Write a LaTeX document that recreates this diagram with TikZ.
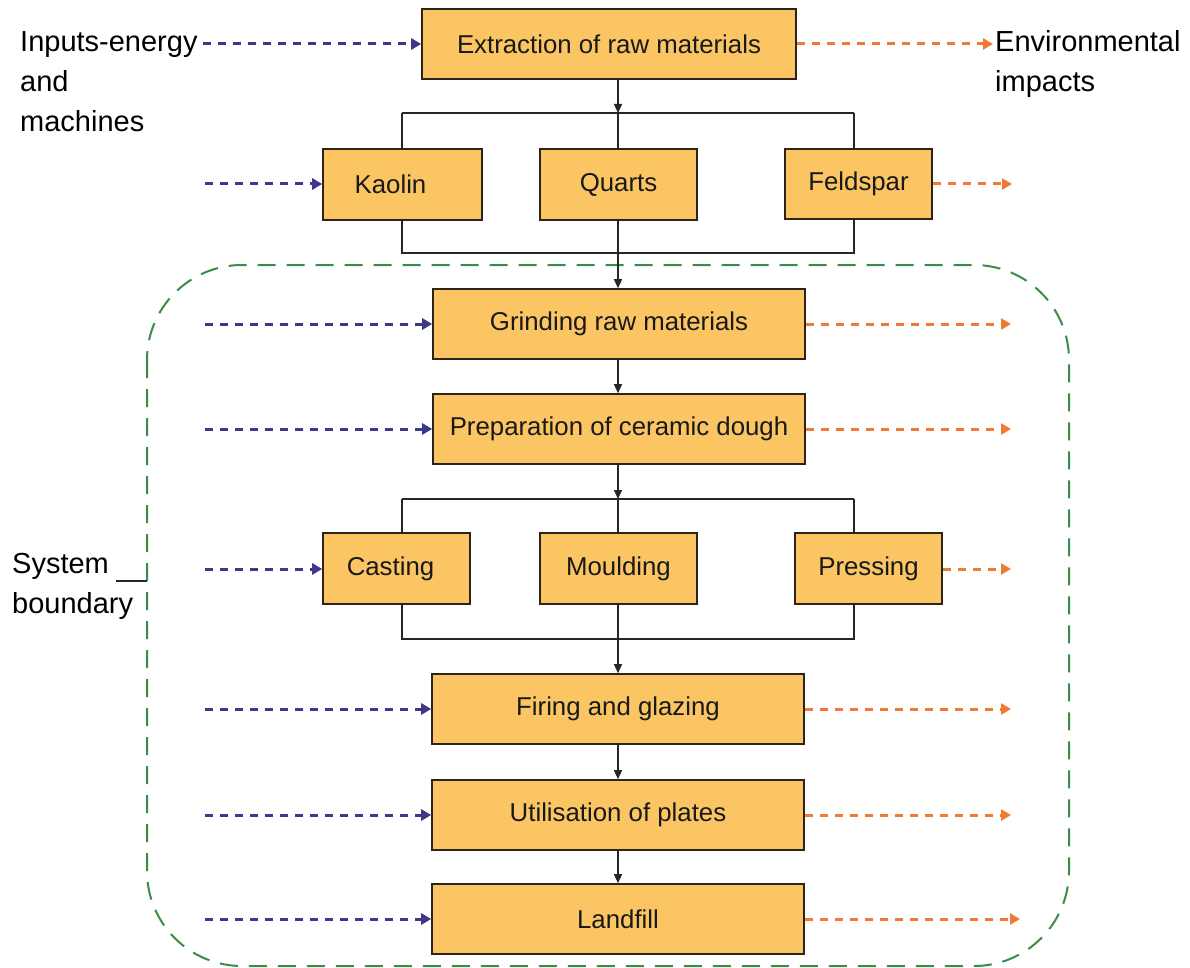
\documentclass[tikz,border=0pt]{standalone}
\usepackage{fontspec}
\setmainfont{Liberation Sans}
\usetikzlibrary{arrows.meta}
\definecolor{boxfill}{RGB}{250,197,98}
\definecolor{boxline}{RGB}{45,35,25}
\definecolor{inblue}{RGB}{62,56,140}
\definecolor{outorange}{RGB}{238,122,52}
\definecolor{bndgreen}{RGB}{58,140,70}
\tikzset{
  stage/.style={draw=boxline, line width=1.6pt, fill=boxfill, inner sep=0pt,
    font=\fontsize{25.8}{30}\selectfont, text=black!90},
  conn/.style={draw=black!85, line width=1.4pt},
  flowtip/.style={-{Triangle[length=9pt,width=8pt]}},
  inarrow/.style={draw=inblue, line width=3pt, dash pattern=on 8pt off 7pt,
    -{Triangle[length=10pt,width=11pt]}},
  outarrow/.style={draw=outorange, line width=3pt, dash pattern=on 8pt off 7pt,
    -{Triangle[length=10pt,width=11pt]}},
  boundary/.style={draw=bndgreen, line width=2pt, dash pattern=on 18pt off 11pt, rounded corners=95pt},
  sidelabel/.style={font=\fontsize{29}{40}\selectfont, align=left, inner sep=0pt, anchor=north west}
}
\begin{document}
\begin{tikzpicture}[x=1pt,y=-1pt]
\useasboundingbox (0,0) rectangle (1190,968);
\fill[white] (0,0) rectangle (1190,968);

% system boundary
\draw[boundary] (147,265) rectangle (1069,966);

% stages
\node[stage, minimum width=374pt, minimum height=70pt] (ext) at (609,44) {Extraction of raw materials};
\node[stage, minimum width=159pt, minimum height=71pt] (kao) at (402.5,184.5) {Kaolin\kern24pt};
\node[stage, minimum width=157pt, minimum height=71pt] (qua) at (618.5,184.5) {Quarts};
\node[stage, minimum width=147pt, minimum height=70pt] (fel) at (858.5,184) {Feldspar};
\node[stage, minimum width=372pt, minimum height=70pt] (gri) at (619,324) {Grinding raw materials};
\node[stage, minimum width=372pt, minimum height=70pt] (pre) at (619,429) {Preparation of ceramic dough};
\node[stage, minimum width=147pt, minimum height=71pt] (cas) at (396.5,568.5) {Casting\kern12pt};
\node[stage, minimum width=157pt, minimum height=71pt] (mou) at (618.5,568.5) {Moulding};
\node[stage, minimum width=147pt, minimum height=71pt] (pres) at (868.5,568.5) {Pressing};
\node[stage, minimum width=372pt, minimum height=70pt] (fir) at (618,709) {Firing and glazing};
\node[stage, minimum width=372pt, minimum height=70pt] (uti) at (618,815) {Utilisation of plates};
\node[stage, minimum width=372pt, minimum height=70pt] (lan) at (618,919) {Landfill};

% side labels
\node[sidelabel] (inputs) at (20,31) {Inputs-energy\\and\\machines};
\node[sidelabel] (envimp) at (995,30) {Environmental\\impacts};
\node[sidelabel] (sysb) at (12,553) {System\\boundary};
\coordinate (sysL) at (116,581);
\coordinate (sysR) at (147,581);
\draw[line width=1.4pt, black!85] (sysL) -- (sysR);

% bracket coordinates
\coordinate (b1L) at (402,113);
\coordinate (b1R) at (854,113);
\coordinate (b1M) at (618,113);
\coordinate (b2L) at (402,253);
\coordinate (b2R) at (854,253);
\coordinate (b2M) at (618,253);
\coordinate (b3L) at (402,499);
\coordinate (b3R) at (854,499);
\coordinate (b3M) at (618,499);
\coordinate (b4L) at (402,639);
\coordinate (b4R) at (854,639);
\coordinate (b4M) at (618,639);

% main flow
\draw[conn, flowtip] (ext.south -| b1M) -- (b1M);
\draw[conn] (b1L) -- (b1R);
\draw[conn] (b1L) -- (b1L |- kao.north);
\draw[conn] (b1M) -- (b1M |- qua.north);
\draw[conn] (b1R) -- (b1R |- fel.north);
\draw[conn] (b2L |- kao.south) -- (b2L) -- (b2R) -- (b2R |- fel.south);
\draw[conn, flowtip] (b2M |- qua.south) -- (b2M |- gri.north);
\draw[conn, flowtip] (gri.south -| b2M) -- (pre.north -| b2M);
\draw[conn, flowtip] (pre.south -| b3M) -- (b3M);
\draw[conn] (b3L) -- (b3R);
\draw[conn] (b3L) -- (b3L |- cas.north);
\draw[conn] (b3M) -- (b3M |- mou.north);
\draw[conn] (b3R) -- (b3R |- pres.north);
\draw[conn] (b4L |- cas.south) -- (b4L) -- (b4R) -- (b4R |- pres.south);
\draw[conn, flowtip] (b4M |- mou.south) -- (b4M |- fir.north);
\draw[conn, flowtip] (fir.south -| b4M) -- (uti.north -| b4M);
\draw[conn, flowtip] (uti.south -| b4M) -- (lan.north -| b4M);

% inputs (blue)
\coordinate (i1) at (203,44);
\coordinate (i2) at (205,184);
\coordinate (i3) at (205,324);
\coordinate (i4) at (205,429);
\coordinate (i5) at (205,569);
\coordinate (i6) at (205,709);
\coordinate (i7) at (205,815);
\coordinate (i8) at (205,919);
\draw[inarrow] (i1) -- (ext.west);
\draw[inarrow] (i2) -- (i2 -| kao.west);
\draw[inarrow] (i3) -- (gri.west);
\draw[inarrow] (i4) -- (pre.west);
\draw[inarrow] (i5) -- (i5 -| cas.west);
\draw[inarrow] (i6) -- (fir.west);
\draw[inarrow] (i7) -- (uti.west);
\draw[inarrow] (i8) -- (lan.west);

% outputs (orange)
\coordinate (o1) at (993,44);
\coordinate (o2) at (1012,184);
\coordinate (o3) at (1011,324);
\coordinate (o4) at (1011,429);
\coordinate (o5) at (1011,569);
\coordinate (o6) at (1011,709);
\coordinate (o7) at (1011,815);
\coordinate (o8) at (1020,919);
\draw[outarrow] (ext.east) -- (o1);
\draw[outarrow] (fel.east |- o2) -- (o2);
\draw[outarrow] (gri.east) -- (o3);
\draw[outarrow] (pre.east) -- (o4);
\draw[outarrow] (pres.east |- o5) -- (o5);
\draw[outarrow] (fir.east) -- (o6);
\draw[outarrow] (uti.east) -- (o7);
\draw[outarrow] (lan.east) -- (o8);
\end{tikzpicture}
\end{document}
